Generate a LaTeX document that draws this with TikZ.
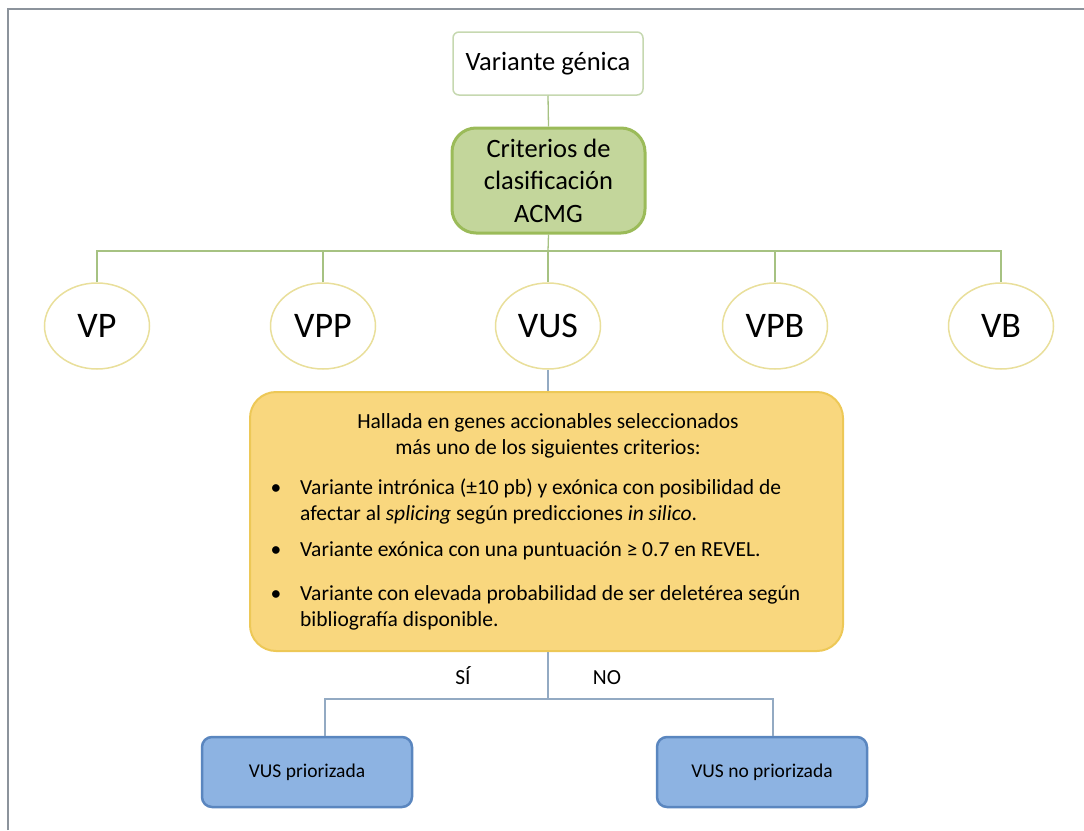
\documentclass[tikz,border=0pt]{standalone}
\usepackage{fontspec}
\setmainfont{Carlito}
\usetikzlibrary{shapes.geometric}
\definecolor{frameGray}{HTML}{8C939C}
\definecolor{greenFill}{HTML}{C3D69B}
\definecolor{greenEdge}{HTML}{9BBB59}
\definecolor{paleGreenEdge}{HTML}{C6D8B0}
\definecolor{greenLine}{HTML}{A6C282}
\definecolor{ovalEdge}{HTML}{E9DF9B}
\definecolor{goldFill}{HTML}{F9D77E}
\definecolor{goldEdge}{HTML}{EDC857}
\definecolor{blueFill}{HTML}{8DB3E2}
\definecolor{blueEdge}{HTML}{5A86BF}
\definecolor{blueLine}{HTML}{93AAC3}
\tikzset{
  startbox/.style={draw=paleGreenEdge, line width=1.5pt, fill=white, rounded corners=6pt,
    minimum width=190pt, minimum height=63pt, font=\fontsize{26.5}{30}\selectfont},
  acmgbox/.style={draw=greenEdge, line width=3pt, fill=greenFill, rounded corners=24pt,
    minimum width=193pt, minimum height=105pt, align=center,
    font=\fontsize{26.5}{32.5}\selectfont},
  classoval/.style={ellipse, draw=ovalEdge, line width=1.5pt, fill=white,
    minimum width=105pt, minimum height=86pt, inner sep=0pt,
    font=\fontsize{36}{40}\selectfont},
  critbox/.style={draw=goldEdge, line width=2pt, fill=goldFill, rounded corners=26pt,
    minimum width=593pt, minimum height=259pt},
  txt/.style={inner sep=0pt, font=\fontsize{21.5}{26}\selectfont},
  resultbox/.style={draw=blueEdge, line width=2.5pt, fill=blueFill, rounded corners=10pt,
    minimum width=210pt, minimum height=70pt, font=\fontsize{19.5}{22}\selectfont},
  gline/.style={draw=greenLine, line width=1.3pt},
  bline/.style={draw=blueLine, line width=1.3pt},
}
\begin{document}
\begin{tikzpicture}[x=1pt,y=-1pt]
\useasboundingbox (0,0) rectangle (1084,830);
% page frame
\draw[frameGray, line width=2.2pt] (8,830) -- (8,9) -- (1084,9);

% top of the tree
\node[startbox] (gen) at (548,63.5) {Variante génica};
\node[acmgbox] (acmg) at (548.5,180.5) {Criterios de\\clasificación\\ACMG};

% classification ovals
\node[classoval] (vp)  at (97,326)   {VP};
\node[classoval] (vpp) at (323,326)  {VPP};
\node[classoval] (vus) at (548,326)  {VUS};
\node[classoval] (vpb) at (775,326)  {VPB};
\node[classoval] (vb)  at (1001,326) {VB};

\coordinate (hub) at (548,251);
\draw[gline] (gen.south) -- (acmg.north);
\draw[gline] (acmg.south) -- (hub);
\draw[gline] (vp.north) |- (hub) -| (vb.north);
\draw[gline] (vpp.north) -- (vpp.north |- hub);
\draw[gline] (vpb.north) -- (vpb.north |- hub);
\draw[gline] (hub) -- (vus.north);

% prioritisation criteria
\node[critbox] (crit) at (546.5,521.5) {};
\draw[bline] (vus.south) -- (crit.north -| vus.south);

\node[txt, anchor=base] (h1) at (548,428) {Hallada en genes accionables seleccionados};
\node[txt, anchor=base] (h2) at (548,454) {más uno de los siguientes criterios:};

\node[txt, anchor=base] (d1) at (276,494) {•};
\node[txt, anchor=base west] (c1a) at (300,494) {Variante intrónica (±10 pb) y exónica con posibilidad de};
\node[txt, anchor=base west] (c1b) at (300,520) {afectar al \textit{splicing} según predicciones \textit{in silico}.};
\node[txt, anchor=base] (d2) at (276,556) {•};
\node[txt, anchor=base west] (c2) at (300,556) {Variante exónica con una puntuación ≥ 0.7 en REVEL.};
\node[txt, anchor=base] (d3) at (276,600) {•};
\node[txt, anchor=base west] (c3a) at (300,600) {Variante con elevada probabilidad de ser deletérea según};
\node[txt, anchor=base west] (c3b) at (300,626) {bibliografía disponible.};

% outcomes
\node[resultbox] (yes) at (307,772) {VUS priorizada};
\node[resultbox] (no)  at (762,772) {VUS no priorizada};
\coordinate (split) at (548,699);
\draw[bline] (crit.south -| split) -- (split);
\draw[bline] (yes.north -| 325,0) |- (split) -| (no.north -| 773,0);

\node[txt, anchor=base] (si) at (463,684) {SÍ};
\node[txt, anchor=base] (nolab) at (607,684) {NO};
\end{tikzpicture}
\end{document}
